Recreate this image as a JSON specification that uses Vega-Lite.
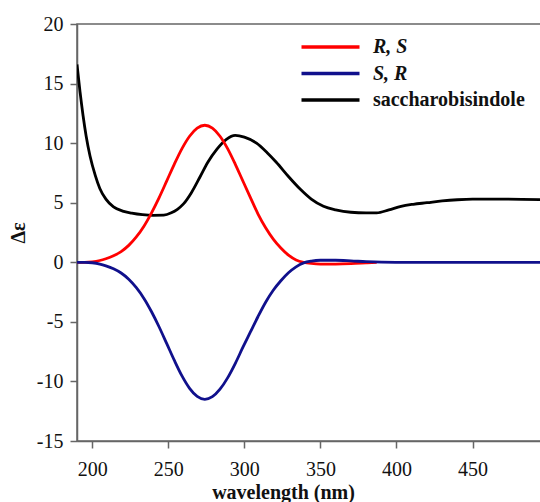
{
  "$schema": "https://vega.github.io/schema/vega-lite/v6.json",
  "width": 464,
  "height": 417,
  "autosize": {"type": "none"},
  "padding": {"left": 77, "top": 24, "right": 0, "bottom": 61},
  "background": "white",
  "config": {
    "view": {"stroke": "#666666", "strokeWidth": 1.5},
    "font": "Liberation Serif",
    "axis": {
      "labelFont": "Liberation Serif",
      "labelFontSize": 20,
      "labelColor": "#111111",
      "titleFont": "Liberation Serif",
      "titleFontWeight": "bold",
      "titleFontSize": 20,
      "titleColor": "#111111",
      "domainColor": "#666666",
      "domainWidth": 1.5,
      "tickColor": "#666666",
      "tickWidth": 1.5,
      "tickSize": 7,
      "grid": false
    }
  },
  "data": {
    "values": [
      {"s": "saccharobisindole", "x": 190, "y": 16.6},
      {"s": "saccharobisindole", "x": 192, "y": 14.3},
      {"s": "saccharobisindole", "x": 194, "y": 12.3},
      {"s": "saccharobisindole", "x": 196, "y": 10.6},
      {"s": "saccharobisindole", "x": 198.6, "y": 8.9},
      {"s": "saccharobisindole", "x": 202, "y": 7.3},
      {"s": "saccharobisindole", "x": 205, "y": 6.2},
      {"s": "saccharobisindole", "x": 209, "y": 5.3},
      {"s": "saccharobisindole", "x": 214, "y": 4.65},
      {"s": "saccharobisindole", "x": 220, "y": 4.3},
      {"s": "saccharobisindole", "x": 226, "y": 4.13},
      {"s": "saccharobisindole", "x": 233, "y": 4.0},
      {"s": "saccharobisindole", "x": 240, "y": 3.94},
      {"s": "saccharobisindole", "x": 247, "y": 3.95},
      {"s": "saccharobisindole", "x": 252, "y": 4.15},
      {"s": "saccharobisindole", "x": 256, "y": 4.45},
      {"s": "saccharobisindole", "x": 260, "y": 4.9},
      {"s": "saccharobisindole", "x": 265, "y": 5.8},
      {"s": "saccharobisindole", "x": 271, "y": 7.2},
      {"s": "saccharobisindole", "x": 276, "y": 8.4},
      {"s": "saccharobisindole", "x": 282, "y": 9.5},
      {"s": "saccharobisindole", "x": 288, "y": 10.3},
      {"s": "saccharobisindole", "x": 294, "y": 10.65},
      {"s": "saccharobisindole", "x": 300, "y": 10.5},
      {"s": "saccharobisindole", "x": 308, "y": 10.0},
      {"s": "saccharobisindole", "x": 315, "y": 9.2},
      {"s": "saccharobisindole", "x": 321, "y": 8.4},
      {"s": "saccharobisindole", "x": 329, "y": 7.2},
      {"s": "saccharobisindole", "x": 337, "y": 6.1},
      {"s": "saccharobisindole", "x": 344, "y": 5.3},
      {"s": "saccharobisindole", "x": 352, "y": 4.7},
      {"s": "saccharobisindole", "x": 360, "y": 4.4},
      {"s": "saccharobisindole", "x": 370, "y": 4.2},
      {"s": "saccharobisindole", "x": 380, "y": 4.15},
      {"s": "saccharobisindole", "x": 387, "y": 4.15},
      {"s": "saccharobisindole", "x": 395, "y": 4.4},
      {"s": "saccharobisindole", "x": 403, "y": 4.7},
      {"s": "saccharobisindole", "x": 411, "y": 4.87},
      {"s": "saccharobisindole", "x": 420, "y": 5.0},
      {"s": "saccharobisindole", "x": 430, "y": 5.15},
      {"s": "saccharobisindole", "x": 440, "y": 5.25},
      {"s": "saccharobisindole", "x": 450, "y": 5.3},
      {"s": "saccharobisindole", "x": 470, "y": 5.3},
      {"s": "saccharobisindole", "x": 495, "y": 5.25},
      {"s": "R, S", "x": 190, "y": 0},
      {"s": "R, S", "x": 195, "y": 0},
      {"s": "R, S", "x": 200, "y": 0.04},
      {"s": "R, S", "x": 205, "y": 0.15},
      {"s": "R, S", "x": 209, "y": 0.3},
      {"s": "R, S", "x": 214, "y": 0.55},
      {"s": "R, S", "x": 219, "y": 0.9},
      {"s": "R, S", "x": 224, "y": 1.42},
      {"s": "R, S", "x": 229, "y": 2.13},
      {"s": "R, S", "x": 234, "y": 3.03},
      {"s": "R, S", "x": 239, "y": 4.15},
      {"s": "R, S", "x": 244, "y": 5.43},
      {"s": "R, S", "x": 249, "y": 6.83},
      {"s": "R, S", "x": 254, "y": 8.24},
      {"s": "R, S", "x": 259, "y": 9.54},
      {"s": "R, S", "x": 264, "y": 10.58},
      {"s": "R, S", "x": 269, "y": 11.26},
      {"s": "R, S", "x": 274, "y": 11.5},
      {"s": "R, S", "x": 279, "y": 11.26},
      {"s": "R, S", "x": 284, "y": 10.58},
      {"s": "R, S", "x": 289, "y": 9.54},
      {"s": "R, S", "x": 294, "y": 8.24},
      {"s": "R, S", "x": 299, "y": 6.83},
      {"s": "R, S", "x": 304, "y": 5.43},
      {"s": "R, S", "x": 309, "y": 4.05},
      {"s": "R, S", "x": 314, "y": 2.9},
      {"s": "R, S", "x": 319, "y": 1.95},
      {"s": "R, S", "x": 324, "y": 1.2},
      {"s": "R, S", "x": 329, "y": 0.6},
      {"s": "R, S", "x": 334, "y": 0.2},
      {"s": "R, S", "x": 339, "y": 0.0},
      {"s": "R, S", "x": 344, "y": -0.1},
      {"s": "R, S", "x": 350, "y": -0.15},
      {"s": "R, S", "x": 360, "y": -0.15},
      {"s": "R, S", "x": 370, "y": -0.12},
      {"s": "R, S", "x": 380, "y": -0.05},
      {"s": "R, S", "x": 387, "y": 0},
      {"s": "S, R", "x": 190, "y": 0},
      {"s": "S, R", "x": 195, "y": 0},
      {"s": "S, R", "x": 200, "y": -0.04},
      {"s": "S, R", "x": 205, "y": -0.15},
      {"s": "S, R", "x": 209, "y": -0.3},
      {"s": "S, R", "x": 214, "y": -0.55},
      {"s": "S, R", "x": 219, "y": -0.9},
      {"s": "S, R", "x": 224, "y": -1.42},
      {"s": "S, R", "x": 229, "y": -2.13},
      {"s": "S, R", "x": 234, "y": -3.03},
      {"s": "S, R", "x": 239, "y": -4.15},
      {"s": "S, R", "x": 244, "y": -5.43},
      {"s": "S, R", "x": 249, "y": -6.83},
      {"s": "S, R", "x": 254, "y": -8.24},
      {"s": "S, R", "x": 259, "y": -9.54},
      {"s": "S, R", "x": 264, "y": -10.58},
      {"s": "S, R", "x": 269, "y": -11.26},
      {"s": "S, R", "x": 274, "y": -11.5},
      {"s": "S, R", "x": 279, "y": -11.28},
      {"s": "S, R", "x": 284, "y": -10.65},
      {"s": "S, R", "x": 289, "y": -9.7},
      {"s": "S, R", "x": 294, "y": -8.5},
      {"s": "S, R", "x": 299, "y": -7.15},
      {"s": "S, R", "x": 304, "y": -5.85},
      {"s": "S, R", "x": 309, "y": -4.55},
      {"s": "S, R", "x": 314, "y": -3.35},
      {"s": "S, R", "x": 319, "y": -2.35},
      {"s": "S, R", "x": 324, "y": -1.55},
      {"s": "S, R", "x": 329, "y": -0.88},
      {"s": "S, R", "x": 334, "y": -0.38},
      {"s": "S, R", "x": 339, "y": -0.05},
      {"s": "S, R", "x": 344, "y": 0.1},
      {"s": "S, R", "x": 350, "y": 0.17},
      {"s": "S, R", "x": 360, "y": 0.17},
      {"s": "S, R", "x": 370, "y": 0.12},
      {"s": "S, R", "x": 380, "y": 0.05},
      {"s": "S, R", "x": 390, "y": 0.01},
      {"s": "S, R", "x": 400, "y": 0},
      {"s": "S, R", "x": 450, "y": 0},
      {"s": "S, R", "x": 495, "y": 0}
    ]
  },
  "mark": {"type": "line", "strokeWidth": 2.8, "interpolate": "monotone", "clip": true},
  "encoding": {
    "x": {
      "field": "x",
      "type": "quantitative",
      "scale": {"domain": [190, 495], "nice": false, "zero": false},
      "axis": {"values": [200, 250, 300, 350, 400, 450], "title": "wavelength (nm)", "titleX": 206, "titleY": 61, "titleBaseline": "bottom", "labelPadding": 11}
    },
    "y": {
      "field": "y",
      "type": "quantitative",
      "scale": {"domain": [-15, 20], "nice": false},
      "axis": {
        "values": [-15, -10, -5, 0, 5, 10, 15, 20],
        "labelExpr": "datum.value < 0 ? '-' + abs(datum.value) : '' + datum.value",
        "title": "Δε",
        "titleX": -49,
        "labelPadding": 7
      }
    },
    "color": {
      "field": "s",
      "type": "nominal",
      "scale": {"domain": ["R, S", "S, R", "saccharobisindole"], "range": ["#ff0000", "#10108c", "#000000"]},
      "legend": {
        "title": null,
        "orient": "none",
        "legendX": 243.5,
        "legendY": 13,
        "symbolType": "M-5,0H5",
        "symbolSize": 134.56,
        "symbolStrokeWidth": 3.5,
        "labelFont": "Liberation Serif",
        "labelFontSize": 20,
        "labelFontWeight": "bold",
        "labelColor": "#111111",
        "labelFontStyle": {"expr": "datum.label == 'saccharobisindole' ? 'normal' : 'italic'"},
        "labelOffset": 32.4,
        "rowPadding": 6.5
      }
    }
  }
}
